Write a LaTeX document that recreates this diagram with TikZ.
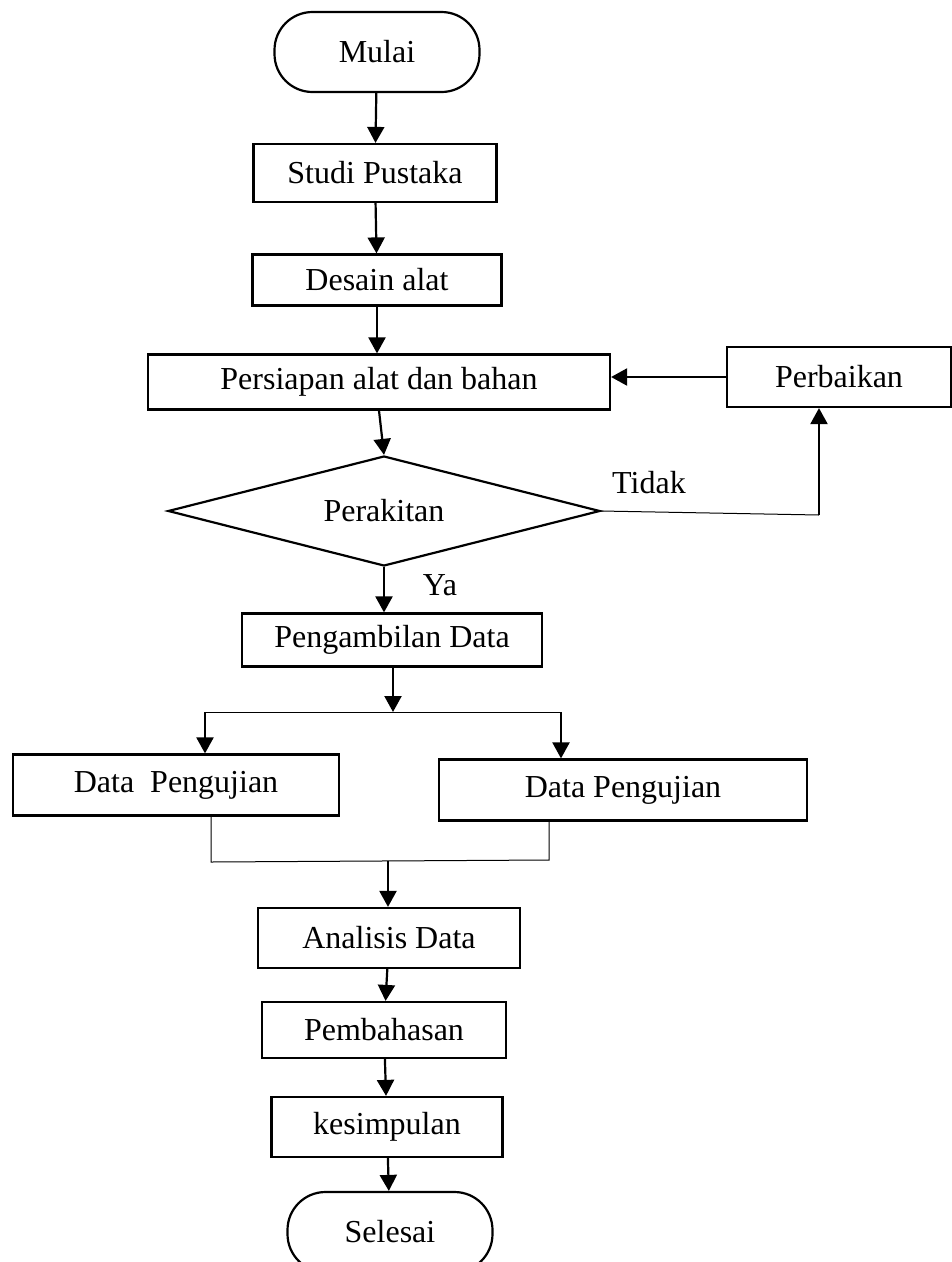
\documentclass[tikz,border=0pt]{standalone}
\usepackage{fontspec}
\setmainfont{Liberation Serif}
\usetikzlibrary{shapes.geometric,arrows.meta}

\tikzset{
  box/.style={draw,line width=2.2pt,inner sep=0pt},
  term/.style={draw,line width=2.2pt,inner sep=0pt,rounded corners=38pt,minimum width=205pt,minimum height=80pt},
  decision/.style={draw,diamond,line width=2.2pt,aspect=3.9,inner sep=0pt},
  arr/.style={line width=2.2pt,-{Triangle[length=16pt,width=17pt]}},
  thinline/.style={line width=1pt}
}

\begin{document}
\begin{tikzpicture}[x=1pt,y=-1pt,font=\fontsize{32}{38}\selectfont]
  \useasboundingbox (0,0) rectangle (952,1262);

  \node[term] (mulai) at (377,52) {Mulai};
  \node[box,minimum width=243pt,minimum height=58pt] (studi) at (375,173) {Studi Pustaka};
  \node[box,minimum width=249pt,minimum height=51pt] (desain) at (377,280) {Desain alat};
  \node[box,minimum width=462pt,minimum height=55pt] (persiapan) at (379,382) {Persiapan alat dan bahan};
  \node[box,minimum width=224pt,minimum height=60pt] (perbaikan) at (839,377) {Perbaikan};
  \node[decision,minimum width=432pt,minimum height=110pt] (perakitan) at (384,511) {Perakitan};
  \node (tidak) at (649,483) {Tidak};
  \node (ya) at (440,585) {Ya};
  \node[box,minimum width=300pt,minimum height=53pt] (pengambilan) at (392,640) {Pengambilan Data};
  \node[box,minimum width=326pt,minimum height=61pt] (dataA) at (176,785) {Data\ \ Pengujian};
  \node[box,minimum width=368pt,minimum height=61pt] (dataB) at (623,790) {Data Pengujian};
  \node[box,minimum width=262pt,minimum height=60pt] (analisis) at (389,938) {Analisis Data};
  \node[box,minimum width=244pt,minimum height=56pt] (pembahasan) at (384,1030) {Pembahasan};
  \node[box,minimum width=231pt,minimum height=60pt] (kesimpulan) at (387,1127) {kesimpulan};
  \node[term] (selesai) at (390,1232) {Selesai};

  \coordinate (tidakc) at (819,515);
  \coordinate (split) at (393,712);
  \coordinate (splitL) at (205,712);
  \coordinate (splitR) at (561,712);
  \coordinate (joinL) at (211,862);
  \coordinate (joinR) at (549,860);
  \coordinate (join) at (388,861);

  \draw[arr] (mulai) -- (studi);
  \draw[arr] (studi) -- (desain);
  \draw[arr] (desain) -- (desain.south |- persiapan.north);
  \draw[arr] (persiapan.south) -- (perakitan.north);
  \draw[thinline] (perakitan.east) -- (tidakc);
  \draw[arr] (tidakc) -- (tidakc |- perbaikan.south);
  \draw[arr] (perbaikan.west) -- (perbaikan.west -| persiapan.east);
  \draw[arr] (perakitan.south) -- (perakitan.south |- pengambilan.north);
  \draw[arr] (pengambilan.south -| split) -- (split);
  \draw[thinline] (splitL) -- (splitR);
  \draw[arr] (splitL) -- (splitL |- dataA.north);
  \draw[arr] (splitR) -- (splitR |- dataB.north);
  \draw[thinline] (joinL |- dataA.south) -- (joinL) -- (joinR) -- (joinR |- dataB.south);
  \draw[arr] (join) -- (join |- analisis.north);
  \draw[arr] (analisis) -- (pembahasan);
  \draw[arr] (pembahasan) -- (kesimpulan);
  \draw[arr] (kesimpulan) -- (selesai);
\end{tikzpicture}
\end{document}
